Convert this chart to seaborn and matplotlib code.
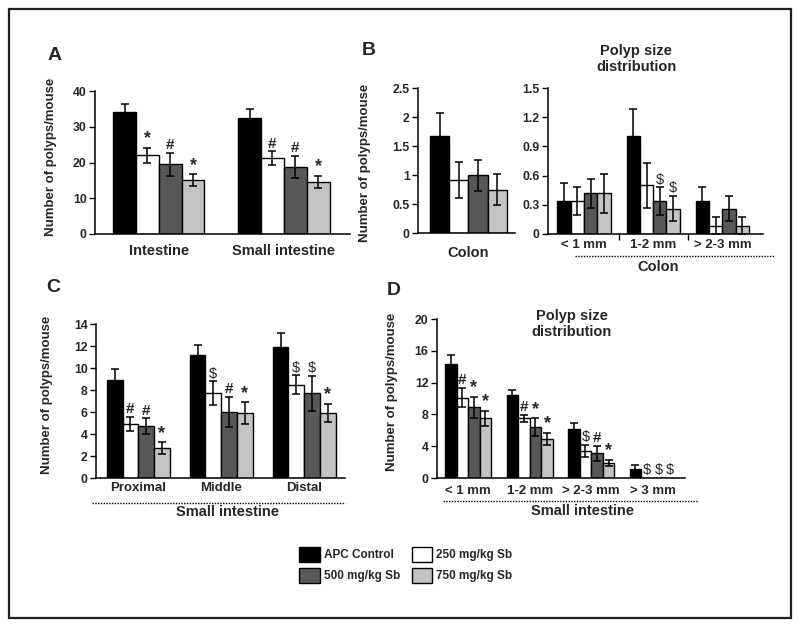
import matplotlib
matplotlib.use("Agg")
import matplotlib.pyplot as plt
from matplotlib.patches import Patch, Rectangle
import numpy as np
import pandas as pd
import seaborn as sns

sns.set_style("ticks")
plt.rcParams["font.family"] = ["Liberation Sans", "DejaVu Sans"]
plt.rcParams["font.weight"] = "bold"

treatments = ["APC Control", "250 mg/kg Sb", "500 mg/kg Sb", "750 mg/kg Sb"]
colors = ["#000000", "#ffffff", "#585858", "#c3c3c3"]

# values are [treatment][category]
# A - total polyps
a_cats = ["Intestine", "Small intestine"]
a_mean = [[34.2, 32.5], [22.0, 21.2], [19.5, 18.8], [15.1, 14.5]]
a_err = [[2.3, 2.5], [2.0, 1.9], [3.3, 3.0], [1.6, 1.7]]
a_marks = [["", ""], ["*", "#"], ["#", "#"], ["*", "*"]]

# B - colon total
b1_cats = ["Colon"]
b1_mean = [[1.67], [0.92], [1.0], [0.75]]
b1_err = [[0.40], [0.31], [0.27], [0.27]]
b1_marks = [[""], [""], [""], [""]]

# B - colon polyp size
b2_cats = ["< 1 mm", "1-2 mm", "> 2-3 mm"]
b2_mean = [[0.34, 1.01, 0.34], [0.34, 0.50, 0.085], [0.42, 0.34, 0.26], [0.42, 0.26, 0.085]]
b2_err = [[0.18, 0.27, 0.14], [0.14, 0.23, 0.085], [0.15, 0.14, 0.13], [0.20, 0.13, 0.085]]
b2_marks = [["", "", ""], ["", "", ""], ["", "$", ""], ["", "$", ""]]

# C - small intestine segments
c_cats = ["Proximal", "Middle", "Distal"]
c_mean = [[8.9, 11.2, 11.9], [4.9, 7.7, 8.5], [4.7, 6.0, 7.7], [2.7, 5.9, 5.9]]
c_err = [[0.97, 0.88, 1.3], [0.65, 1.1, 0.82], [0.72, 1.4, 1.6], [0.54, 0.97, 0.82]]
c_marks = [["", "", ""], ["#", "$", "$"], ["#", "#", "$"], ["*", "*", "*"]]

# D - small intestine polyp size
d_cats = ["< 1 mm", "1-2 mm", "> 2-3 mm", "> 3 mm"]
d_mean = [[14.4, 10.4, 6.2, 1.1], [10.1, 7.5, 3.4, 0], [8.9, 6.4, 3.1, 0], [7.5, 4.9, 1.9, 0]]
d_err = [[1.1, 0.67, 0.76, 0.58], [1.2, 0.42, 0.8, 0], [1.35, 1.1, 0.97, 0], [0.97, 0.8, 0.34, 0]]
d_marks = [["", "", "", ""], ["#", "#", "$", "$"], ["*", "*", "#", "$"], ["*", "*", "*", "$"]]

mark_style = {"*": dict(fontsize=13, fontweight="bold"),
              "#": dict(fontsize=11, fontweight="bold"),
              "$": dict(fontsize=10.5, fontweight="normal")}


def bars(ax, cats, mean, err, marks, width):
    rows = []
    for ti, t in enumerate(treatments):
        for ci, c in enumerate(cats):
            rows.append({"cat": c, "group": t, "mean": mean[ti][ci]})
    df = pd.DataFrame(rows)
    sns.barplot(data=df, x="cat", y="mean", hue="group", order=cats,
                hue_order=treatments, palette=colors, width=width, saturation=1,
                edgecolor="black", linewidth=1, errorbar=None, legend=False, ax=ax)
    containers = list(ax.containers)
    for ti, cont in enumerate(containers):
        for ci, bar in enumerate(cont):
            x = bar.get_x() + bar.get_width() / 2
            m, e = mean[ti][ci], err[ti][ci]
            if e > 0:
                ax.errorbar(x, m, yerr=e, fmt="none", ecolor="black", elinewidth=1.1,
                            capsize=3, capthick=1.1, zorder=3)
            s = marks[ti][ci]
            if s:
                ax.annotate(s.replace("$", r"\$"), (x, m + e), xytext=(0, 0.5),
                            textcoords="offset points", ha="center", va="bottom",
                            **mark_style[s])


def style(ax, xlim, ylim, ticks, catsize, pad, lab_xy):
    ax.set_xlim(*xlim)
    ax.set_ylim(*ylim)
    ax.set_yticks(ticks)
    ax.set_yticklabels([f"{t:g}" for t in ticks], fontsize=8.8, fontweight="bold")
    ax.tick_params(axis="y", length=4, width=1, color="black", pad=2)
    ax.tick_params(axis="x", length=0, pad=pad, labelsize=catsize)
    for lab in ax.get_xticklabels():
        lab.set_fontweight("bold")
    ax.set_xlabel("")
    ax.set_ylabel("Number of polyps/mouse", fontsize=9.5, fontweight="bold")
    ax.yaxis.set_label_coords(*lab_xy)
    sns.despine(ax=ax)
    for sp in ("left", "bottom"):
        ax.spines[sp].set_linewidth(1.1)
        ax.spines[sp].set_color("black")


def under(ax, x0, x1, yline, ylab, xlab, text):
    ax.plot([x0, x1], [yline, yline], transform=ax.transAxes, clip_on=False,
            color="black", lw=1, linestyle=(0, (1, 1)))
    ax.text(xlab, ylab, text, transform=ax.transAxes, ha="center", va="center",
            fontsize=10.5, fontweight="bold")


fig = plt.figure(figsize=(8, 6.26), dpi=100)

axA = fig.add_axes([0.11875, 0.6262, 0.319, 0.2284])
bars(axA, a_cats, a_mean, a_err, a_marks, 0.73)
style(axA, (-0.51, 1.53), (0, 40), [0, 10, 20, 30, 40], 10.5, 7, (-0.149, 0.54))

axB1 = fig.add_axes([0.5225, 0.6273, 0.121, 0.2321])
bars(axB1, b1_cats, b1_mean, b1_err, b1_marks, 0.8)
style(axB1, (-0.525, 0.483), (0, 2.5), [0, 0.5, 1, 1.5, 2, 2.5], 10.5, 9, (-0.485, 0.486))

axB2 = fig.add_axes([0.685, 0.6262, 0.269, 0.2332])
bars(axB2, b2_cats, b2_mean, b2_err, b2_marks, 0.77)
style(axB2, (-0.52, 2.59), (0, 1.5), [0, 0.3, 0.6, 0.9, 1.2, 1.5], 9.5, 3.5, (-0.2, 0.5))
axB2.set_ylabel("")
axB2.set_xticks([0.5, 1.5], minor=True)
axB2.tick_params(axis="x", which="minor", length=4, width=1, color="black")
under(axB2, 0.126, 1.056, -0.151, -0.226, 0.51, "Colon")
axB2.text(0.41, 1.20, "Polyp size\ndistribution", transform=axB2.transAxes,
          ha="center", va="center", fontsize=10.5, fontweight="bold", linespacing=1.15)

axC = fig.add_axes([0.12, 0.2364, 0.311, 0.246])
bars(axC, c_cats, c_mean, c_err, c_marks, 0.76)
style(axC, (-0.51, 2.49), (0, 14), list(range(0, 15, 2)), 9.5, 3, (-0.173, 0.54))
under(axC, -0.016, 1.0, -0.162, -0.22, 0.53, "Small intestine")

axD = fig.add_axes([0.546, 0.2364, 0.31, 0.254])
bars(axD, d_cats, d_mean, d_err, d_marks, 0.75)
style(axD, (-0.51, 3.52), (0, 20), [0, 4, 8, 12, 16, 20], 9.5, 5, (-0.157, 0.54))
under(axD, 0.024, 1.052, -0.145, -0.21, 0.589, "Small intestine")
axD.text(0.545, 0.97, "Polyp size\ndistribution", transform=axD.transAxes,
         ha="center", va="center", fontsize=10.5, fontweight="bold", linespacing=1.15)

# panel letters
for lab, x, y in [("A", 48, 47), ("B", 362, 42), ("C", 46, 279), ("D", 387, 282)]:
    fig.text(x / 800, 1 - y / 626, lab, ha="left", va="top", fontsize=14, fontweight="bold")

# legend, filled column-wise so rows read APC/250 then 500/750
order = [0, 2, 1, 3]
handles = [Patch(facecolor=colors[i], edgecolor="black", lw=1) for i in order]
fig.legend(handles, [treatments[i] for i in order], ncol=2, frameon=False,
           loc="upper left", bbox_to_anchor=(299 / 800, 1 - 547 / 626),
           borderpad=0, borderaxespad=0, handlelength=1.76, handleheight=1.6,
           handletextpad=0.32, columnspacing=1.0, labelspacing=0.48,
           prop={"size": 8.5, "weight": "bold"})

fig.add_artist(Rectangle((9 / 800, 1 - 618 / 626), 782 / 800, 609 / 626,
                         transform=fig.transFigure, fill=False, lw=1.6, ec="#222222"))

fig.savefig("out.png", dpi=100)
